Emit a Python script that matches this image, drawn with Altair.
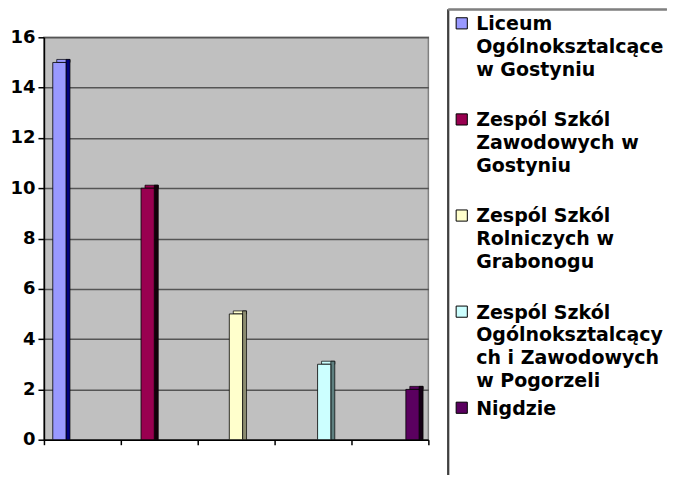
import altair as alt
import pandas as pd

# ---- data ----
categories = [
    "Liceum Ogólnoksztalcące w Gostyniu",
    "Zespól Szkól Zawodowych w Gostyniu",
    "Zespól Szkól Rolniczych w Grabonogu",
    "Zespól Szkól Ogólnoksztalcących i Zawodowych w Pogorzeli",
    "Nigdzie",
]
values = [15, 10, 5, 3, 2]
legend_labels = [
    "Liceum\nOgólnoksztalcące\nw Gostyniu",
    "Zespól Szkól\nZawodowych w\nGostyniu",
    "Zespól Szkól\nRolniczych w\nGrabonogu",
    "Zespól Szkól\nOgólnoksztalcący\nch i Zawodowych\nw Pogorzeli",
    "Nigdzie",
]
front_colors = ["#9999FF", "#990050", "#FFFFCC", "#CCFFFF", "#5a005f"]
side_colors = ["#000080", "#14000a", "#8c8c70", "#5f8080", "#140014"]
y_ticks = [0, 2, 4, 6, 8, 10, 12, 14, 16]

# ---- styling constants ----
FONT = "DejaVu Sans"
xmin, xmax = -0.175, 4.18
x_ticks = [xmin + k * (xmax - xmin) / 5 for k in range(6)]
half = 0.075
depth_x = 0.045
depth_y = 0.12

df = pd.DataFrame({
    "idx": list(range(len(categories))),
    "category": categories,
    "value": values,
    "label": legend_labels,
    "front": front_colors,
    "side": side_colors,
})

xs = alt.Scale(domain=[xmin, xmax], nice=False, zero=False)
ys = alt.Scale(domain=[0, 16], nice=False)

x_axis = alt.Axis(values=x_ticks, labels=False, grid=False, title=None,
                  domainColor="black", domainWidth=1.5, tickColor="black",
                  tickSize=5, tickWidth=1.5)
y_axis = alt.Axis(values=y_ticks, grid=True, gridColor="#555555", gridWidth=1.5,
                  domainColor="black", domainWidth=1.5, tickColor="black",
                  tickSize=6, tickWidth=1.5, labelFont=FONT, labelFontSize=18,
                  labelFontWeight="bold", labelColor="black", labelPadding=3,
                  title=None)

base = alt.Chart(df).transform_calculate(
    fx0=f"datum.idx - {half}",
    fx1=f"datum.idx + {half}",
    sx1=f"datum.idx + {half + depth_x}",
    tx0=f"datum.idx - {half - depth_x}",
    vtop=f"datum.value + {depth_y}",
)

top_face = base.mark_rect(stroke="black", strokeWidth=0.7).encode(
    x=alt.X("tx0:Q", scale=xs, axis=x_axis),
    x2="sx1:Q",
    y=alt.Y("value:Q", scale=ys, axis=y_axis),
    y2="vtop:Q",
    color=alt.Color("front:N", scale=None),
)
side_face = base.mark_rect(stroke="black", strokeWidth=0.7).encode(
    x=alt.X("fx1:Q", scale=xs, axis=x_axis),
    x2="sx1:Q",
    y=alt.Y("vtop:Q", scale=ys, axis=y_axis),
    y2=alt.datum(0),
    color=alt.Color("side:N", scale=None),
)
front_face = base.mark_rect(stroke="black", strokeWidth=0.8).encode(
    x=alt.X("fx0:Q", scale=xs, axis=x_axis),
    x2="fx1:Q",
    y=alt.Y("value:Q", scale=ys, axis=y_axis),
    y2=alt.datum(0),
    color=alt.Color("front:N", scale=None),
    tooltip=["category:N", "value:Q"],
)
bars = alt.layer(top_face, side_face, front_face)

# ---- legend drawn as layers with their own scales ----
lxs = alt.Scale(domain=[0, 10], range=[405, 625], nice=False, zero=False)
lys = alt.Scale(domain=[0, 4], range=[-14, 371], nice=False, zero=False)
box_top, box_bottom, box_right = -0.145, 4.70, 9.95

legend_df = df.assign(sx=0.61, tx=1.27)

leg_left = alt.Chart(df).mark_rule(color="#404040", strokeWidth=1.5).encode(
    x=alt.X(datum=0, scale=lxs, axis=None),
    y=alt.Y(datum=box_top, scale=lys, axis=None),
    y2=alt.datum(box_bottom),
)
leg_top = alt.Chart(df).mark_rule(color="#808080", strokeWidth=1.5).encode(
    x=alt.X(datum=0, scale=lxs, axis=None),
    x2=alt.datum(box_right),
    y=alt.Y(datum=box_top, scale=lys, axis=None),
)
leg_sym = alt.Chart(legend_df).mark_square(size=125, opacity=1, stroke="black",
                                           strokeWidth=1).encode(
    x=alt.X("sx:Q", scale=lxs, axis=None),
    y=alt.Y("idx:Q", scale=lys, axis=None),
    fill=alt.Fill("front:N", scale=None),
)
leg_text = alt.Chart(legend_df).mark_text(
    align="left", baseline="top", lineBreak="\n", lineHeight=23, dy=-8.1,
    font=FONT, fontSize=19, fontWeight="bold", color="black",
).encode(
    x=alt.X("tx:Q", scale=lxs, axis=None),
    y=alt.Y("idx:Q", scale=lys, axis=None),
    text="label:N",
)
legend = alt.layer(leg_left, leg_top, leg_sym, leg_text)

chart = alt.layer(bars, legend).resolve_scale(
    x="independent", y="independent"
).properties(
    width=385, height=403,
    padding={"left": 1, "top": 0, "right": 0, "bottom": 0},
    background="white",
).configure_view(
    fill="#C0C0C0", stroke="#808080", strokeWidth=1.5
)

chart.save("out.html", embed_options={"renderer": "svg", "actions": False})
